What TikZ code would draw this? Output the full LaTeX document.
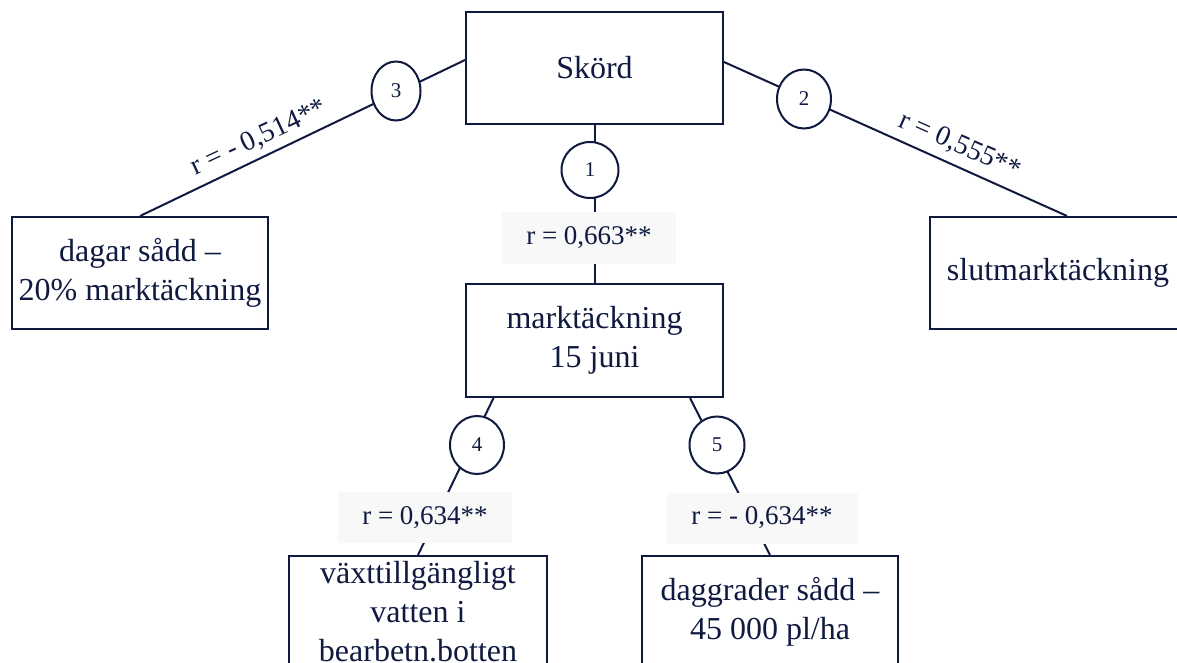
\documentclass[tikz,border=0pt]{standalone}
\usepackage{fontspec}
\setmainfont{Liberation Serif}
\usetikzlibrary{shapes.geometric,calc}
\definecolor{ink}{RGB}{16,26,64}
\definecolor{tagfill}{RGB}{248,248,248}
\begin{document}
\begin{tikzpicture}[x=1pt,y=-1pt,
  box/.style={draw=ink, line width=2pt, fill=white, inner sep=0pt,
    minimum width=257pt, minimum height=112pt, align=center, text=ink,
    font=\fontsize{32}{39}\selectfont},
  num/.style={ellipse, draw=ink, line width=2pt, fill=white, inner sep=0pt,
    text=ink, font=\fontsize{21}{21}\selectfont},
  tag/.style={fill=tagfill, inner sep=0pt, minimum width=174pt,
    minimum height=52pt, text=ink, font=\fontsize{27}{27}\selectfont},
  slant/.style={text=ink, inner sep=0pt, font=\fontsize{28}{28}\selectfont},
  link/.style={draw=ink, line width=2pt}]
\useasboundingbox (0,0) rectangle (1177,663);

% boxes
\node[box] (skord) at (594.5,68) {Skörd};
\node[box, minimum height=113pt] (mark) at (594.5,340.5) {marktäckning\\15 juni};
\node[box, minimum width=256pt] (dagar) at (140,273) {dagar sådd –\\20\% marktäckning};
\node[box, minimum width=256pt] (slut) at (1058,273) {slutmarktäckning};
\node[box, minimum width=258pt] (vatten) at (418,612) {växttillgängligt\\vatten i\\bearbetn.botten};
\node[box, minimum width=256pt] (dagg) at (770,612) {daggrader sådd –\\45 000 pl/ha};

% connectors
\draw[link] ($(skord.west)+(0,-8)$) -- (dagar.north);
\draw[link] ($(skord.east)+(0,-6)$) -- ($(slut.north)+(9,0)$);
\draw[link] (skord.south) -- (mark.north);
\draw[link] ($(mark.south)+(-101,0)$) -- (vatten.north);
\draw[link] ($(mark.south)+(95.5,0)$) -- (dagg.north);

% path numbers
\node[num, minimum width=49pt, minimum height=59pt] (n3) at (396,91) {3};
\node[num, minimum width=54pt, minimum height=59pt] (n2) at (804,99) {2};
\node[num, minimum width=57pt, minimum height=56pt] (n1) at (590,170) {1};
\node[num, minimum width=54pt, minimum height=58pt] (n4) at (477,445) {4};
\node[num, minimum width=55pt, minimum height=57pt] (n5) at (717,445) {5};

% coefficients
\node[tag] (t1) at (589,238) {r = 0,663**};
\node[tag, minimum height=51pt] (t4) at (425,517.5) {r = 0,634**};
\node[tag, minimum width=192pt, minimum height=51pt] (t5) at (762,518) {r = - 0,634**};
\node[slant, rotate=25] (s3) at (259,138) {r = - 0,514**};
\node[slant, rotate=-24] (s2) at (960,146) {r = 0,555**};
\end{tikzpicture}
\end{document}
